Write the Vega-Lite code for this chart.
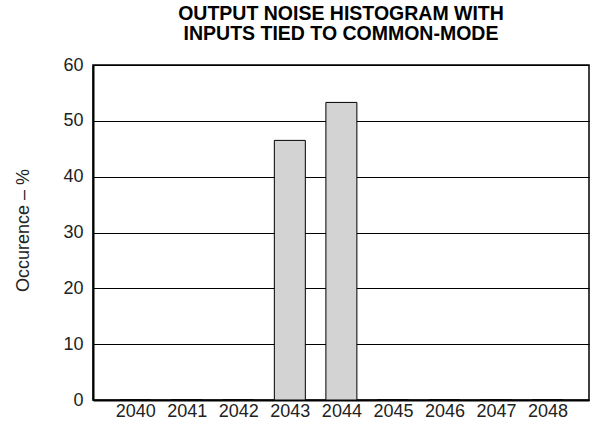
{
  "$schema": "https://vega.github.io/schema/vega-lite/v6.json",
  "autosize": {"type": "none"},
  "width": 496,
  "height": 335,
  "padding": {"left": 93, "top": 65, "right": 5, "bottom": 22},
  "background": "white",
  "title": {
    "text": ["OUTPUT NOISE HISTOGRAM WITH", "INPUTS TIED TO COMMON-MODE"],
    "font": "Liberation Sans",
    "fontSize": 19.5,
    "fontWeight": "bold",
    "color": "#000000",
    "lineHeight": 20,
    "offset": 12,
    "anchor": "middle"
  },
  "config": {
    "view": {"stroke": "#000000", "strokeWidth": 1.5},
    "axis": {
      "labelFont": "Liberation Sans",
      "titleFont": "Liberation Sans",
      "labelColor": "#222222",
      "titleColor": "#222222"
    }
  },
  "data": {
    "values": [
      {"code": 2040, "pct": 0},
      {"code": 2041, "pct": 0},
      {"code": 2042, "pct": 0},
      {"code": 2043, "pct": 46.5},
      {"code": 2044, "pct": 53.3},
      {"code": 2045, "pct": 0},
      {"code": 2046, "pct": 0},
      {"code": 2047, "pct": 0},
      {"code": 2048, "pct": 0}
    ]
  },
  "mark": {"type": "bar", "size": 31, "fill": "#d3d3d3", "stroke": "#000000", "strokeWidth": 1},
  "encoding": {
    "x": {
      "field": "code",
      "type": "quantitative",
      "scale": {"domain": [2039.278, 2048.707], "nice": false, "zero": false},
      "axis": {
        "values": [2040, 2041, 2042, 2043, 2044, 2045, 2046, 2047, 2048],
        "format": "d",
        "title": null,
        "grid": false,
        "ticks": false,
        "labelFontSize": 18,
        "labelPadding": 2,
        "domainColor": "#000000",
        "domainWidth": 2
      }
    },
    "y": {
      "field": "pct",
      "type": "quantitative",
      "scale": {"domain": [0, 60], "nice": false},
      "axis": {
        "values": [0, 10, 20, 30, 40, 50, 60],
        "title": "Occurence – %",
        "titleFontSize": 18,
        "titleFontWeight": "normal",
        "titleX": -65,
        "titleY": 165,
        "titleBaseline": "alphabetic",
        "grid": true,
        "gridColor": "#000000",
        "gridWidth": 1,
        "gridOpacity": 1,
        "ticks": false,
        "labelFontSize": 18,
        "labelPadding": 10,
        "domainColor": "#000000",
        "domainWidth": 2
      }
    }
  }
}
